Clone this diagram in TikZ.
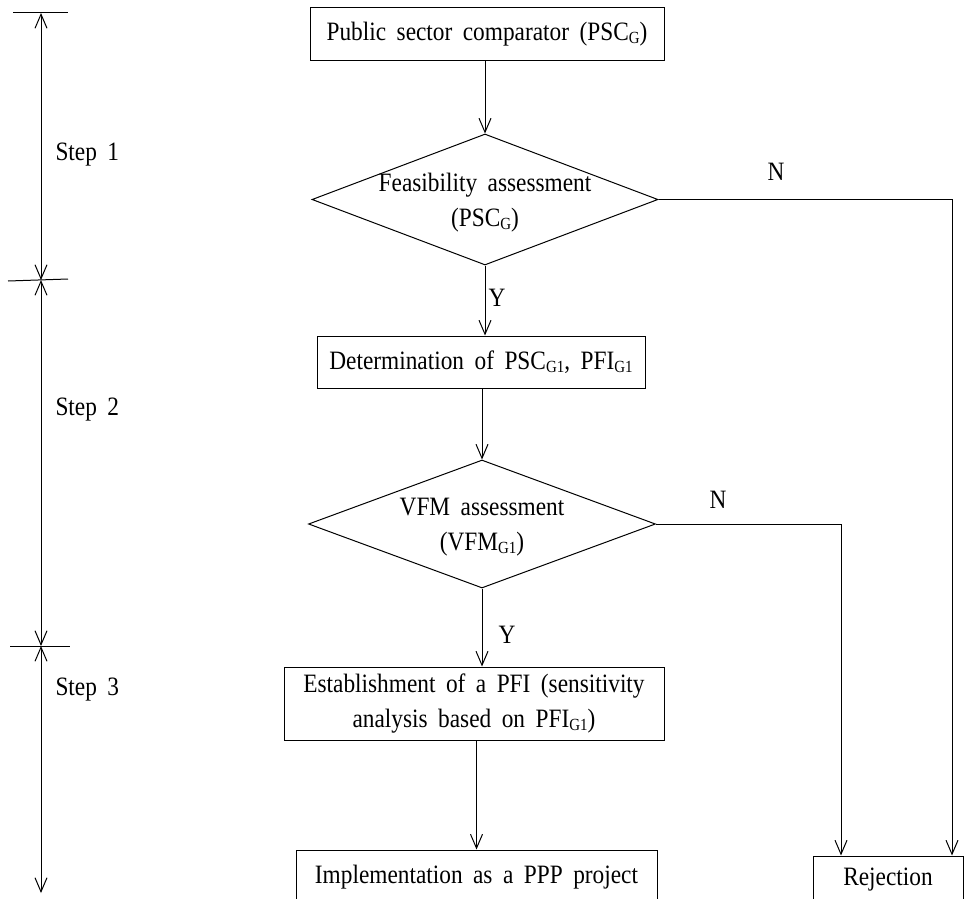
\documentclass[tikz,border=0pt]{standalone}
\usepackage{fontspec}
\setmainfont{Liberation Serif}[FakeStretch=0.88, WordSpace=1.8]
\usetikzlibrary{arrows.meta,shapes.geometric}
% small lowered subscript used in the labels
\newcommand\lowsub[1]{\raisebox{-3pt}{\fontsize{17}{17}\selectfont #1}}

\begin{document}
\begin{tikzpicture}[x=1pt,y=-1pt,
  every node/.style={font=\fontsize{26.5}{35}\selectfont},
  flowbox/.style={draw, line width=1pt, inner sep=0pt, align=center},
  decision/.style={draw, diamond, line width=1pt, inner sep=0pt},
  txt/.style={align=center, inner sep=0pt},
  link/.style={line width=1pt, -{Straight Barb[length=14pt,width=12pt]}},
  span/.style={line width=1pt, {Straight Barb[length=14pt,width=12pt]}-{Straight Barb[length=14pt,width=12pt]}},
  tick/.style={line width=1pt}
]
\useasboundingbox (0,0) rectangle (964,899);
\clip (0,0) rectangle (964,899);

% main flow
\node[flowbox, minimum width=354pt, minimum height=53pt] (psc) at (487,34.5)
  {Public sector comparator (PSC\lowsub{G})};
\node[decision, minimum width=346pt, minimum height=131pt] (feas) at (485,199.5) {};
\node[txt] (feastxt) at (485,203) {Feasibility assessment\\(PSC\lowsub{G})};
\node[flowbox, minimum width=328pt, minimum height=52pt] (det) at (481,362)
  {Determination of PSC\lowsub{G1}, PFI\lowsub{G1}};
\node[decision, minimum width=347pt, minimum height=128pt] (vfm) at (482,524) {};
\node[txt] (vfmtxt) at (482,527) {VFM assessment\\(VFM\lowsub{G1})};
\node[flowbox, minimum width=380pt, minimum height=73pt] (est) at (474,703.5)
  {Establishment of a PFI (sensitivity\\analysis based on PFI\lowsub{G1})};
\node[flowbox, minimum width=361pt, minimum height=54pt] (impl) at (476.5,877)
  {Implementation as a PPP project};
\node[flowbox, minimum width=150pt, minimum height=48pt] (rej) at (888,880) {Rejection};

% connectors
\draw[link] (feas.north |- psc.south) -- (feas.north);
\draw[link] (feas.south) -- (feas.south |- det.north);
\draw[link] (vfm.north |- det.south) -- (vfm.north);
\draw[link] (vfm.south) -- (vfm.south |- est.north);
\draw[link] (impl.north |- est.south) -- (impl.north);
\draw[link] (feas.east) -| ([xshift=64pt]rej.north);
\draw[link] (vfm.east) -| ([xshift=-47pt]rej.north);

% branch labels
\node (n1) at (776,172) {N};
\node (n2) at (718,500) {N};
\node (y1) at (497,298) {Y};
\node (y2) at (507,635) {Y};

% step axis
\coordinate (s0) at (41,13);
\coordinate (s1) at (41,280);
\coordinate (s2) at (41,646);
\coordinate (s3) at (41,893);
\draw[tick] ([xshift=-28pt]s0) -- ([xshift=27pt]s0);
\draw[tick] ([xshift=-33pt,yshift=-1pt]s1) -- ([xshift=27pt,yshift=1pt]s1);
\draw[tick] ([xshift=-31pt]s2) -- ([xshift=29pt]s2);
\draw[span] (s0) -- (s1);
\draw[span] (s1) -- (s2);
\draw[span] (s2) -- (s3);
\node[anchor=west] (st1) at (52,155) {Step 1};
\node[anchor=west] (st2) at (52,410) {Step 2};
\node[anchor=west] (st3) at (52,690) {Step 3};
\end{tikzpicture}
\end{document}
